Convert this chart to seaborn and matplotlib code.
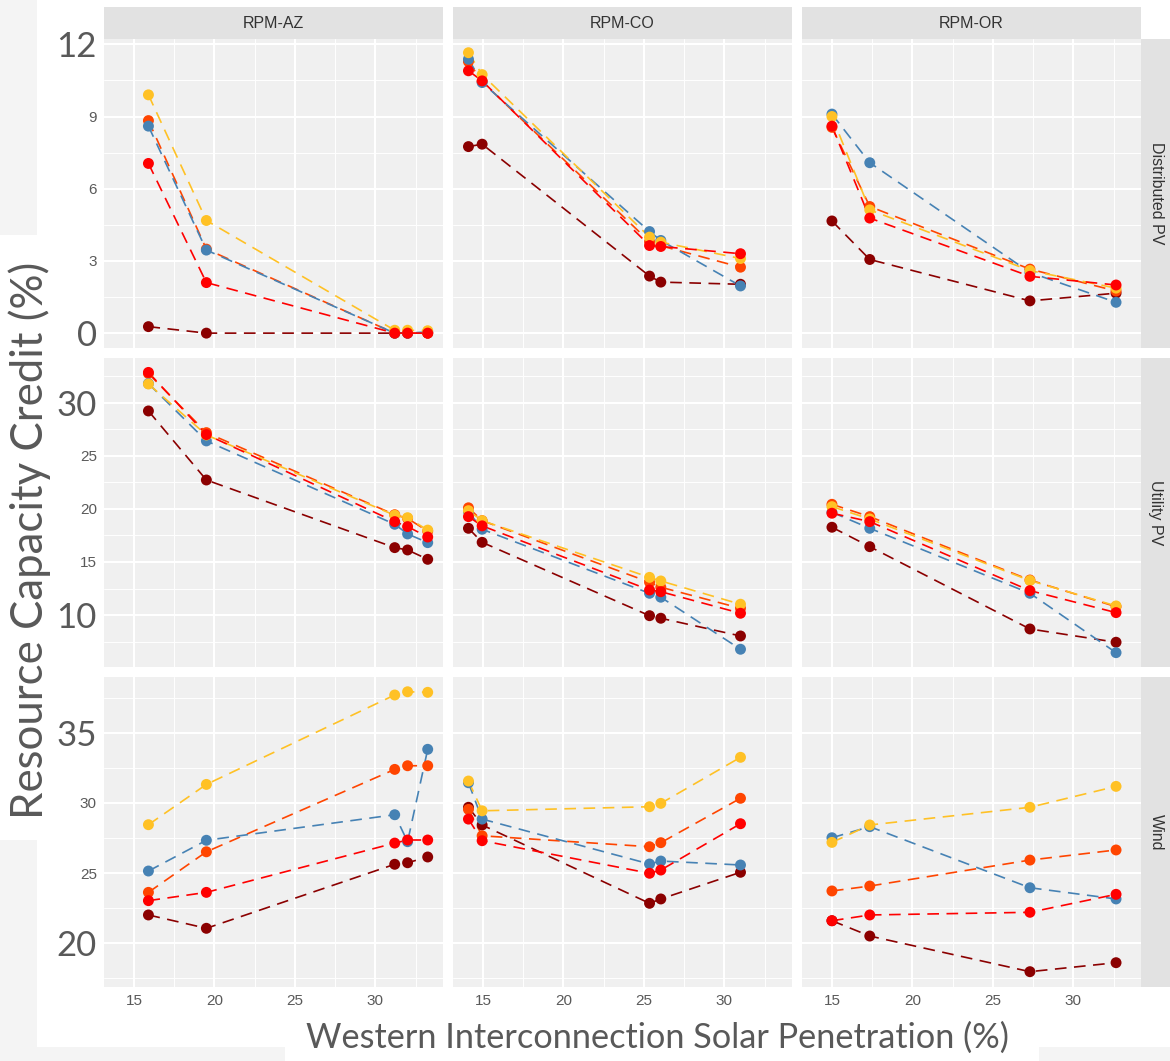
import numpy as np
import pandas as pd
import matplotlib
matplotlib.use("Agg")
import matplotlib.pyplot as plt
from matplotlib.patches import Rectangle
import seaborn as sns

# ---------------- data ----------------
regions = ["RPM-AZ", "RPM-CO", "RPM-OR"]
techs = ["Distributed PV", "Utility PV", "Wind"]
series = ["Case 1", "Case 2", "Case 3", "Case 4", "Case 5"]
colors = ["#8B0000", "#FF4500", "#4682B4", "#FFC125", "#FF0000"]

x_az = [15.9, 19.5, 31.2, 32.0, 33.25]
x_co = [14.1, 14.95, 25.35, 26.05, 31.0]
x_or = [15.0, 17.35, 27.3, 32.65]

# each list: values per series in the order of `series`
az_dpv = [[0.27, 0.0, 0.0, 0.0, 0.0],
          [8.83, 3.49, 0.0, 0.0, 0.0],
          [8.6, 3.45, 0.0, 0.0, 0.05],
          [9.9, 4.68, 0.12, 0.12, 0.1],
          [7.05, 2.1, 0.0, 0.0, 0.0]]
co_dpv = [[7.75, 7.85, 2.37, 2.12, 2.03],
          [11.28, 10.45, 3.8, 3.63, 2.74],
          [11.38, 10.41, 4.22, 3.85, 1.96],
          [11.65, 10.74, 3.99, 3.78, 3.1],
          [10.9, 10.48, 3.64, 3.6, 3.3]]
or_dpv = [[4.66, 3.06, 1.34, 1.66],
          [8.55, 5.26, 2.66, 1.75],
          [9.1, 7.08, 2.52, 1.28],
          [9.0, 5.12, 2.6, 1.87],
          [8.6, 4.78, 2.36, 2.0]]
az_upv = [[29.22, 22.72, 16.35, 16.13, 15.25],
          [32.75, 27.18, 19.45, 19.1, 17.9],
          [31.8, 26.4, 18.55, 17.64, 16.82],
          [31.76, 26.96, 19.4, 19.17, 18.0],
          [32.85, 27.0, 18.8, 18.33, 17.35]]
co_upv = [[18.17, 16.85, 9.94, 9.7, 8.03],
          [20.1, 18.89, 13.09, 12.62, 10.64],
          [19.74, 18.08, 12.05, 11.68, 6.78],
          [19.83, 18.89, 13.55, 13.21, 11.02],
          [19.27, 18.4, 12.36, 12.2, 10.17]]
or_upv = [[18.27, 16.44, 8.69, 7.44],
          [20.43, 19.27, 13.3, 10.79],
          [19.68, 18.17, 12.05, 6.46],
          [20.21, 19.05, 13.25, 10.86],
          [19.59, 18.8, 12.3, 10.23]]
az_wind = [[22.02, 21.07, 25.63, 25.74, 26.15],
           [23.63, 26.52, 32.39, 32.65, 32.65],
           [25.15, 27.34, 29.16, 27.24, 33.82],
           [28.45, 31.32, 37.69, 37.92, 37.88],
           [23.04, 23.63, 27.14, 27.36, 27.36]]
co_wind = [[29.69, 28.43, 22.85, 23.16, 25.06],
           [29.54, 27.66, 26.88, 27.17, 30.33],
           [31.44, 28.85, 25.65, 25.86, 25.58],
           [31.56, 29.44, 29.73, 29.97, 33.25],
           [28.85, 27.31, 24.99, 25.22, 28.52]]
or_wind = [[21.61, 20.52, 17.98, 18.62],
           [23.73, 24.08, 25.93, 26.65],
           [27.52, 28.31, 23.96, 23.16],
           [27.19, 28.43, 29.69, 31.18],
           [21.61, 22.02, 22.21, 23.49]]

x_ticks = [15, 20, 25, 30]
y_ticks = [[0, 3, 6, 9, 12], [10, 15, 20, 25, 30], [20, 25, 30, 35]]
big_ticks = [[0, 12], [10, 30], [20, 35]]

# ---------------- build long table ----------------
xs = {"RPM-AZ": x_az, "RPM-CO": x_co, "RPM-OR": x_or}
panels = {("RPM-AZ", "Distributed PV"): az_dpv, ("RPM-CO", "Distributed PV"): co_dpv,
          ("RPM-OR", "Distributed PV"): or_dpv, ("RPM-AZ", "Utility PV"): az_upv,
          ("RPM-CO", "Utility PV"): co_upv, ("RPM-OR", "Utility PV"): or_upv,
          ("RPM-AZ", "Wind"): az_wind, ("RPM-CO", "Wind"): co_wind, ("RPM-OR", "Wind"): or_wind}
rows = []
for (reg, tech), vals in panels.items():
    for s, v in zip(series, vals):
        for xv, yv in zip(xs[reg], v):
            rows.append({"region": reg, "tech": tech, "series": s, "pen": xv, "cc": yv})
df = pd.DataFrame(rows)

# ---------------- styling ----------------
sns.set_style("white")
plt.rcParams["font.family"] = ["Liberation Sans", "DejaVu Sans"]

W, H = 1170, 1061
fig = plt.figure(figsize=(W / 100, H / 100), dpi=100)
fig.patch.set_facecolor("white")

slide = "#F4F4F4"
for (x0, y0, x1, y1) in [(0, 0, 37, 235), (0, 840, 37, 1061), (0, 1047, 285, 1061), (1039, 1047, 1170, 1061)]:
    fig.patches.append(Rectangle((x0 / W, 1 - y1 / H), (x1 - x0) / W, (y1 - y0) / H,
                                 transform=fig.transFigure, facecolor=slide, edgecolor="none", zorder=0))

col_x = [104, 453, 802]
pw = 339
row_y = [(39, 348.3), (358.3, 667.3), (677.3, 986.7)]
ylims = [(-0.63, 12.22), (5.08, 34.18), (16.91, 38.95)]
xlim = (13.14, 34.2)
pal = dict(zip(series, colors))
panel_bg = "#F0F0F0"
strip_bg = "#E2E2E2"
tick_col = "#5A5A5A"
big_col = "#595959"

for i, tech in enumerate(techs):
    for j, reg in enumerate(regions):
        y0, y1 = row_y[i]
        ax = fig.add_axes([col_x[j] / W, 1 - y1 / H, pw / W, (y1 - y0) / H])
        ax.set_facecolor(panel_bg)
        for sp in ax.spines.values():
            sp.set_visible(False)
        sub = df[(df.region == reg) & (df.tech == tech)].copy()
        sub["order"] = sub["series"].map({s: k for k, s in enumerate(series)})
        sub = sub.sort_values(["order", "pen"], kind="stable")
        sns.lineplot(data=sub, x="pen", y="cc", hue="series", hue_order=series, palette=pal,
                     ax=ax, legend=False, sort=False, estimator=None, linewidth=1.2,
                     linestyle=(0, (7, 4.5)), zorder=2)
        sns.scatterplot(data=sub, x="pen", y="cc", hue="series", hue_order=series, palette=pal,
                        ax=ax, legend=False, s=62, linewidth=0, zorder=3)
        ax.set_xticks(x_ticks)
        ax.set_xticks([12.5, 17.5, 22.5, 27.5, 32.5], minor=True)
        yt = y_ticks[i]
        ax.set_yticks(yt)
        step = yt[1] - yt[0]
        ax.set_yticks(np.arange(yt[0] - step * 1.5, yt[-1] + step * 1.5, step), minor=True)
        ax.set_xlim(*xlim)
        ax.set_ylim(*ylims[i])
        ax.grid(which="major", color="white", linewidth=1.5)
        ax.grid(which="minor", color="white", linewidth=0.7)
        ax.set_axisbelow(True)
        ax.set_xlabel("")
        ax.set_ylabel("")
        ax.tick_params(which="minor", length=0)
        ax.tick_params(which="major", length=3.2, width=0.9, color="#444444", labelcolor=tick_col,
                       labelsize=11, pad=2)
        if j != 0:
            ax.tick_params(axis="y", which="major", length=0, labelleft=False)
        else:
            ax.set_yticklabels([str(t) for t in yt])
            for lab, t in zip(ax.get_yticklabels(), yt):
                if t in big_ticks[i]:
                    lab.set_fontsize(25)
                    lab.set_family(["Lato", "DejaVu Sans"])
                    lab.set_color(big_col)
        if i != 2:
            ax.tick_params(axis="x", which="major", length=0, labelbottom=False)
        else:
            ax.set_xticklabels([str(t) for t in x_ticks])

        # top strips
        if i == 0:
            fig.patches.append(Rectangle((col_x[j] / W, 1 - 39 / H), pw / W, 31.7 / H,
                                         transform=fig.transFigure, facecolor=strip_bg,
                                         edgecolor="none", zorder=1))
            fig.text((col_x[j] + pw / 2) / W, 1 - 23 / H, reg, ha="center", va="center",
                     fontsize=11.5, color="#333333")
    # right strips
    y0, y1 = row_y[i]
    fig.patches.append(Rectangle((1141 / W, 1 - y1 / H), 29 / W, (y1 - y0) / H,
                                 transform=fig.transFigure, facecolor=strip_bg,
                                 edgecolor="none", zorder=1))
    fig.text(1156 / W, 1 - ((y0 + y1) / 2) / H, tech, ha="center", va="center",
             rotation=-90, fontsize=11.5, color="#333333")

# big axis titles
ylab = fig.text(30 / W, 1 - 540 / H, "Resource Capacity Credit (%)", rotation=90,
                ha="center", va="center", fontsize=30, color=big_col, family=["Lato", "DejaVu Sans"])
xlab = fig.text(657 / W, 1 - 1038 / H, "Western Interconnection Solar Penetration (%)",
                ha="center", va="center", fontsize=30, color=big_col, family=["Lato", "DejaVu Sans"])

fig.canvas.draw()
r = fig.canvas.get_renderer()
bb = ylab.get_window_extent(r)
ylab.set_fontsize(ylab.get_fontsize() * 556 / bb.height)
bb = xlab.get_window_extent(r)
xlab.set_fontsize(xlab.get_fontsize() * 702 / bb.width)

fig.savefig("out.png", dpi=100, facecolor=fig.get_facecolor())
